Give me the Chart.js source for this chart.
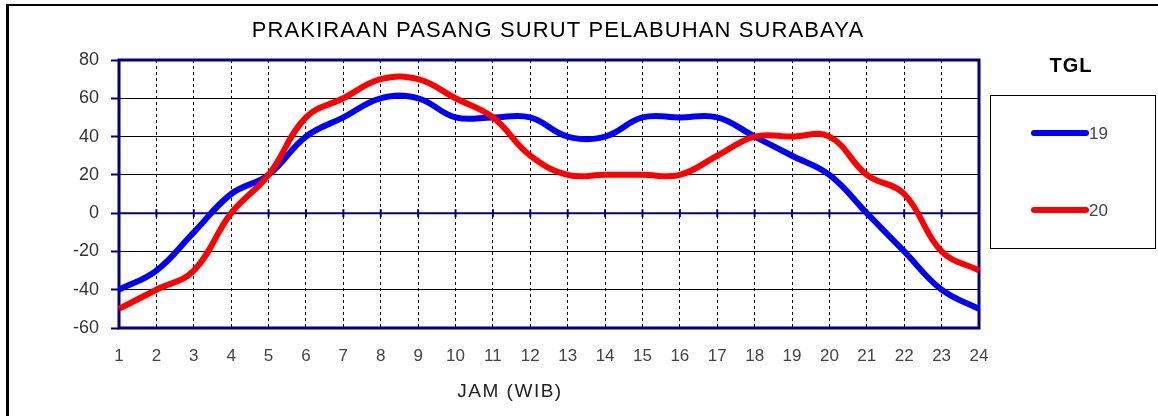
<!DOCTYPE html>
<html>
<head>
<meta charset="utf-8">
<script src="https://cdn.jsdelivr.net/npm/chart.js@4.4.0/dist/chart.umd.min.js"></script>
<style>
  html, body { margin: 0; padding: 0; background: #fff; }
  #wrap { width: 1158px; height: 416px; }
</style>
</head>
<body>
<div id="wrap"><canvas id="myChart" width="1158" height="416"></canvas></div>
<script>
// jam 1..24
var hours = ["1","2","3","4","5","6","7","8","9","10","11","12","13","14","15","16","17","18","19","20","21","22","23","24"];
var tgl19 = [-40, -30, -10, 10, 20, 40, 50, 60, 60, 50, 50, 50, 40, 40, 50, 50, 50, 40, 30, 20, 0, -20, -40, -50];
var tgl20 = [-50, -40, -30, 0, 20, 50, 60, 70, 70, 60, 50, 30, 20, 20, 20, 20, 30, 40, 40, 40, 20, 10, -20, -30];
var yTicks = [80, 60, 40, 20, 0, -20, -40, -60];

var chartTitle = "PRAKIRAAN PASANG SURUT PELABUHAN SURABAYA";
var xTitle = "JAM (WIB)";
var legendTitle = "TGL";

var navy = "#000080";
var font = "'Liberation Sans', Arial, sans-serif";

var decor = {
  id: 'decor',
  beforeDraw: function(chart) {
    var c = chart.ctx;
    c.save();
    c.fillStyle = '#fff';
    c.fillRect(0, 0, chart.width, chart.height);
    // outer frame
    c.strokeStyle = '#000';
    c.lineWidth = 3;
    c.beginPath(); c.moveTo(7.5, 4); c.lineTo(7.5, 416); c.stroke();
    c.lineWidth = 2;
    c.beginPath(); c.moveTo(6, 5); c.lineTo(1158, 5); c.stroke();
    c.restore();
  },
  beforeDatasetsDraw: function(chart) {
    var c = chart.ctx, a = chart.chartArea;
    var xs = chart.scales.x, ys = chart.scales.y;
    var y0 = ys.getPixelForValue(0);
    c.save();
    c.strokeStyle = navy;
    c.lineWidth = 2;
    c.beginPath(); c.moveTo(a.left, y0); c.lineTo(a.right, y0); c.stroke();
    for (var i = 1; i < hours.length - 1; i++) {
      var px = xs.getPixelForValue(i);
      c.beginPath(); c.moveTo(px, y0 - 4); c.lineTo(px, y0 + 4); c.stroke();
    }
    c.lineWidth = 3;
    c.strokeRect(a.left, a.top, a.right - a.left, a.bottom - a.top);
    c.restore();
  },
  afterDraw: function(chart) {
    var c = chart.ctx;
    c.save();
    c.fillStyle = '#000';
    c.textAlign = 'center';
    c.textBaseline = 'middle';
    c.font = "22px " + font;
    c.letterSpacing = '1.1px';
    c.fillText(chartTitle, 558, 31);
    c.fillStyle = '#222';
    c.font = "19px " + font;
    c.letterSpacing = '1.5px';
    c.fillText(xTitle, 510, 392);

    // legend
    c.fillStyle = '#000';
    c.font = "bold 20px " + font;
    c.letterSpacing = '1px';
    c.fillText(legendTitle, 1071, 66);
    c.letterSpacing = '0px';
    c.strokeStyle = '#000';
    c.lineWidth = 1;
    c.strokeRect(990.5, 95.5, 165, 153);
    var rows = [133, 210];
    chart.data.datasets.forEach(function(ds, i) {
      c.strokeStyle = ds.borderColor;
      c.lineWidth = 6;
      c.lineCap = 'round';
      c.beginPath(); c.moveTo(1034, rows[i]); c.lineTo(1086, rows[i]); c.stroke();
      c.fillStyle = '#444';
      c.font = "17px " + font;
      c.textAlign = 'left';
      c.fillText(ds.label, 1089, rows[i] + 1);
    });
    c.restore();
  }
};

var ctx = document.getElementById("myChart").getContext('2d');
var myChart = new Chart(ctx, {
  type: 'line',
  data: {
    labels: hours,
    datasets: [{
      label: '19',
      data: tgl19,
      borderColor: '#0000ff',
      borderWidth: 6,
      pointRadius: 0,
      tension: 0.4,
      fill: false,
      order: 1
    }, {
      label: '20',
      data: tgl20,
      borderColor: '#ff0000',
      borderWidth: 6,
      pointRadius: 0,
      tension: 0.4,
      fill: false,
      order: 0
    }]
  },
  options: {
    responsive: false,
    animation: false,
    layout: { padding: { top: 60, right: 179, left: 0, bottom: 0 } },
    plugins: {
      legend: { display: false },
      title: { display: false },
      tooltip: { enabled: false }
    },
    scales: {
      x: {
        offset: false,
        afterFit: function(s) { s.height = 88; },
        grid: {
          color: function(c) { return (c.index === 0 || c.index === hours.length - 1) ? 'rgba(0,0,0,0)' : '#000'; },
          lineWidth: 1,
          drawTicks: false
        },
        border: { display: false, dash: [3, 3] },
        ticks: {
          color: '#444',
          padding: 18,
          maxRotation: 0,
          autoSkip: false,
          font: { family: font, size: 17 }
        }
      },
      y: {
        min: -60,
        max: 80,
        afterFit: function(s) { s.width = 119; },
        afterBuildTicks: function(s) { s.ticks = yTicks.map(function(v) { return { value: v }; }); },
        grid: {
          color: function(c) { return (c.tick && c.tick.value === 0) ? 'rgba(0,0,0,0)' : '#000'; },
          lineWidth: 1,
          tickColor: navy,
          tickLength: 8,
          tickWidth: 2
        },
        border: { display: false },
        ticks: {
          color: '#333',
          padding: 12,
          font: { family: font, size: 18 }
        }
      }
    }
  },
  plugins: [decor]
});
</script>
</body>
</html>
